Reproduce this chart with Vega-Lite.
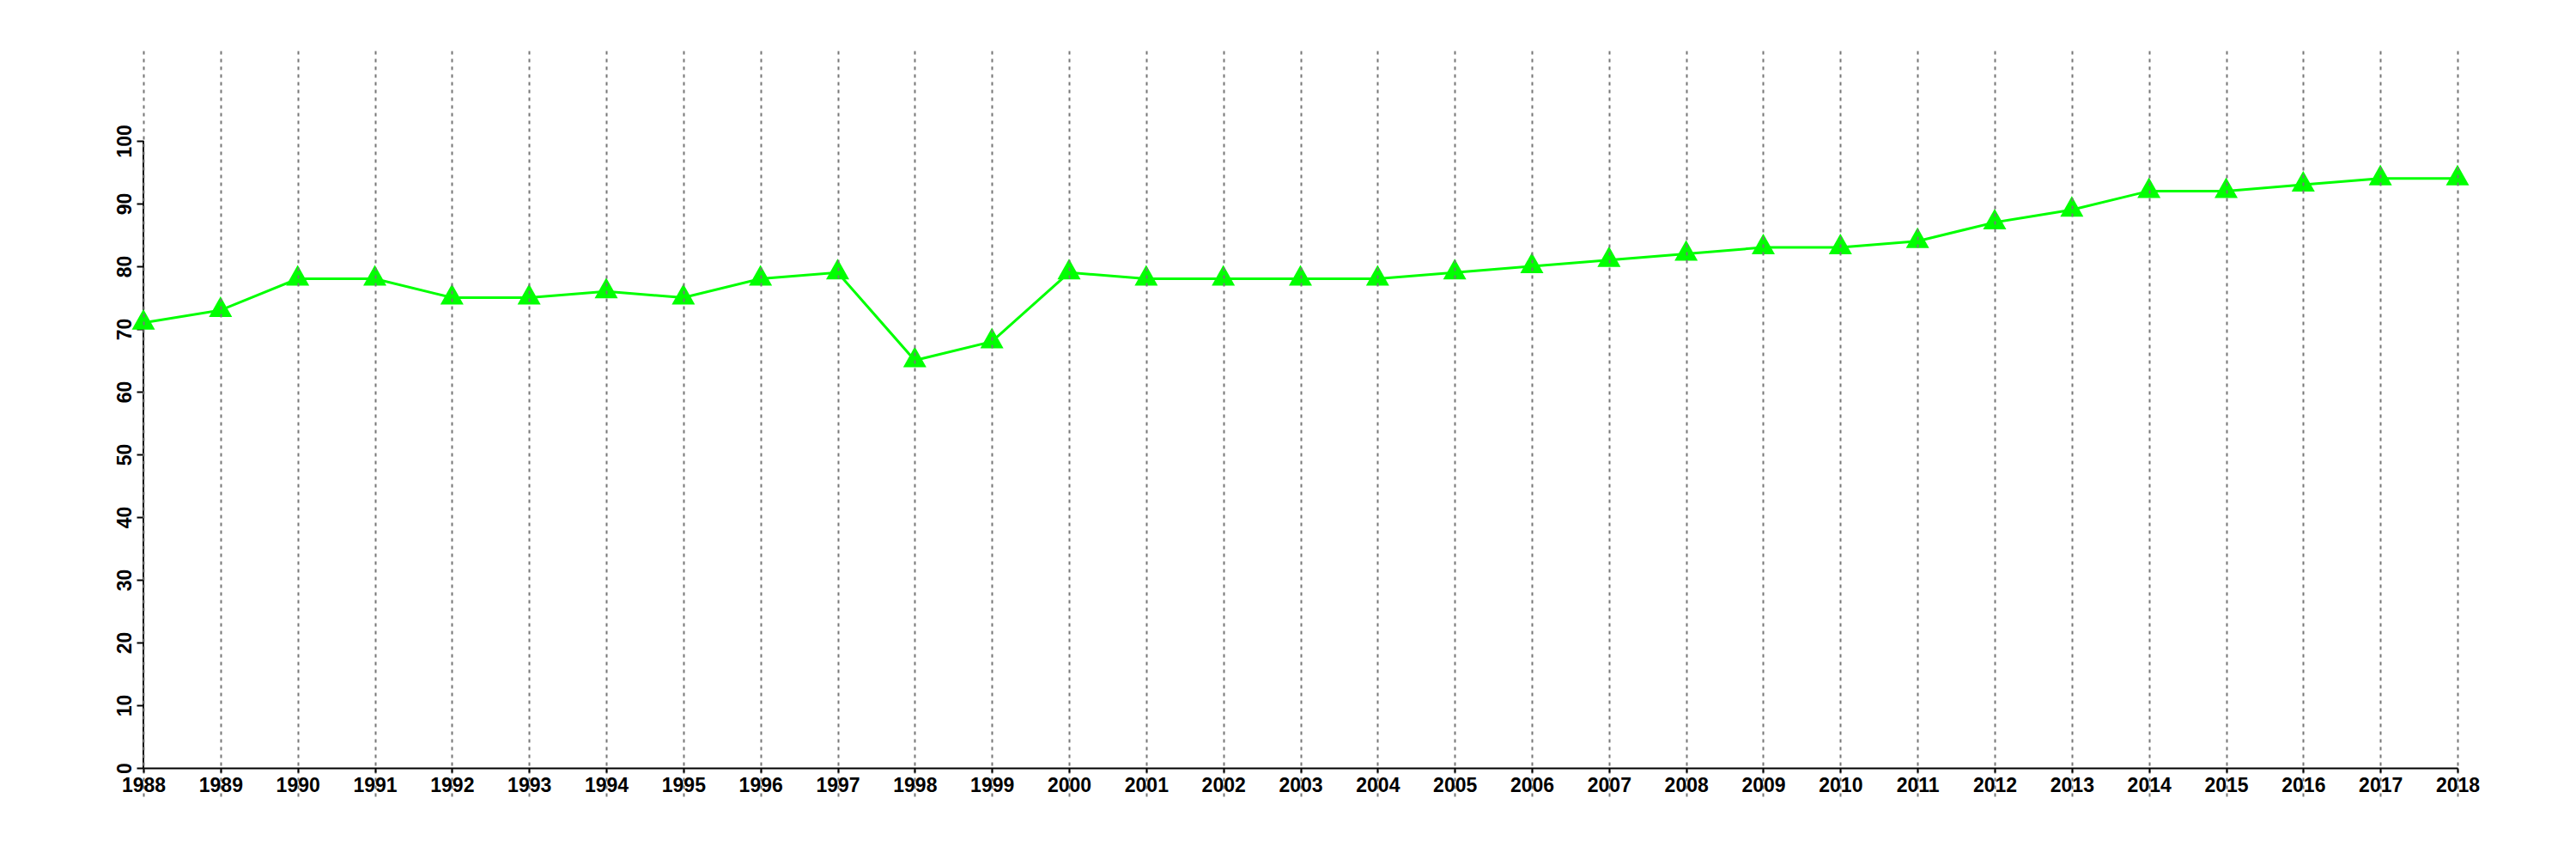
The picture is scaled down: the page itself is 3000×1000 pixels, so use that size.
{
  "$schema": "https://vega.github.io/schema/vega-lite/v6.json",
  "autosize": {"type": "none"},
  "width": 2695,
  "height": 868,
  "padding": {"left": 167, "top": 59, "right": 138, "bottom": 73},
  "background": "white",
  "config": {"view": {"stroke": null}, "axis": {"labelFont": "Liberation Sans", "labelFontWeight": "bold", "labelFontSize": 23, "labelColor": "black"}},
  "data": {"values": [
    {"year": 1988, "value": 71}, {"year": 1989, "value": 73}, {"year": 1990, "value": 78},
    {"year": 1991, "value": 78}, {"year": 1992, "value": 75}, {"year": 1993, "value": 75},
    {"year": 1994, "value": 76}, {"year": 1995, "value": 75}, {"year": 1996, "value": 78},
    {"year": 1997, "value": 79}, {"year": 1998, "value": 65}, {"year": 1999, "value": 68},
    {"year": 2000, "value": 79}, {"year": 2001, "value": 78}, {"year": 2002, "value": 78},
    {"year": 2003, "value": 78}, {"year": 2004, "value": 78}, {"year": 2005, "value": 79},
    {"year": 2006, "value": 80}, {"year": 2007, "value": 81}, {"year": 2008, "value": 82},
    {"year": 2009, "value": 83}, {"year": 2010, "value": 83}, {"year": 2011, "value": 84},
    {"year": 2012, "value": 87}, {"year": 2013, "value": 89}, {"year": 2014, "value": 92},
    {"year": 2015, "value": 92}, {"year": 2016, "value": 93}, {"year": 2017, "value": 94},
    {"year": 2018, "value": 94}
  ]},
  "encoding": {
    "x": {"field": "year", "type": "quantitative",
      "scale": {"domain": [1988, 2018], "nice": false, "zero": false},
      "axis": {"title": null, "values": [1988,1989,1990,1991,1992,1993,1994,1995,1996,1997,1998,1999,2000,2001,2002,2003,2004,2005,2006,2007,2008,2009,2010,2011,2012,2013,2014,2015,2016,2017,2018],
        "format": "d", "labelFlush": false, "labelOverlap": false, "offset": -33, "zindex": 1,
        "domainColor": "black", "domainWidth": 2, "tickColor": "black", "tickWidth": 2, "tickSize": 5, "labelPadding": 4,
        "grid": true, "gridColor": "#777777", "gridWidth": 2, "gridDash": [4, 5]}},
    "y": {"field": "value", "type": "quantitative",
      "scale": {"domain": [-4.52, 114.38], "nice": false, "zero": false},
      "axis": {"title": null, "values": [0,10,20,30,40,50,60,70,80,90,100], "domain": false, "grid": false,
        "tickColor": "black", "tickWidth": 2, "tickSize": 8, "labelPadding": 7,
        "labelAngle": 270, "labelAlign": "center", "labelBaseline": "alphabetic", "labelFlush": false, "labelOverlap": false}}
  },
  "layer": [
    {"mark": {"type": "rule", "color": "black", "strokeWidth": 2},
     "encoding": {"x": {"datum": 1988}, "y": {"datum": 0}, "y2": {"datum": 100}}},
    {"mark": {"type": "line", "color": "#00ff00", "strokeWidth": 3}},
    {"mark": {"type": "point", "filled": true, "opacity": 1, "color": "#00ff00", "size": 729, "shape": "M0,-1.185L1,0.593L-1,0.593Z", "strokeWidth": 0}}
  ]
}
